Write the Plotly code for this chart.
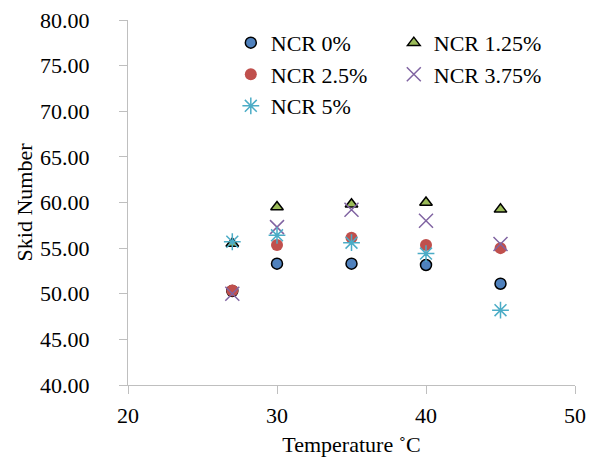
import plotly.graph_objects as go

temperature = [27, 30, 35, 40, 45]
ncr_0 = [50.3, 53.3, 53.3, 53.15, 51.1]
ncr_125 = [55.5, 59.5, 59.8, 60.0, 59.25]
ncr_25 = [50.35, 55.35, 56.15, 55.35, 55.0]
ncr_375 = [50.0, 57.3, 59.2, 58.0, 55.45]
ncr_5 = [55.7, 56.4, 55.6, 54.4, 48.2]

FONT = "Liberation Serif"
FS = 22
fig = go.Figure()
fig.add_trace(go.Scatter(x=temperature, y=ncr_0, mode="markers", name="NCR 0%",
                         marker=dict(symbol="circle", size=11, color="#4F81BD",
                                     line=dict(color="black", width=1.5))))
fig.add_trace(go.Scatter(x=temperature, y=ncr_125, mode="markers", name="NCR 1.25%",
                         marker=dict(symbol="triangle-up", size=11, color="#9BBB59",
                                     line=dict(color="black", width=1.5))))
fig.add_trace(go.Scatter(x=temperature, y=ncr_25, mode="markers", name="NCR 2.5%",
                         marker=dict(symbol="circle", size=12, color="#C0504D",
                                     line=dict(width=0))))
fig.add_trace(go.Scatter(x=temperature, y=ncr_375, mode="markers", name="NCR 3.75%",
                         marker=dict(symbol="x-thin-open", size=14, color="#8064A2",
                                     line=dict(color="#8064A2", width=1.5))))
fig.add_trace(go.Scatter(x=temperature, y=ncr_5, mode="markers", name="NCR 5%",
                         marker=dict(symbol="asterisk-open", size=14, color="#4BACC6",
                                     line=dict(color="#4BACC6", width=1.5))))

axis_common = dict(showgrid=False, zeroline=False, showline=True, linecolor="#BFBFBF",
                   linewidth=1, ticks="outside", tickcolor="#BFBFBF", ticklen=8,
                   automargin=False,
                   tickfont=dict(family=FONT, size=FS, color="black"))
fig.update_xaxes(range=[20, 50], dtick=10, tick0=20, ticklabelstandoff=3,
                 title=dict(text="Temperature ˚C", font=dict(family=FONT, size=FS, color="black"), standoff=9),
                 **axis_common)
fig.update_yaxes(range=[40, 80], dtick=5, tickformat=".2f", ticklabelstandoff=25,
                 title=dict(text="Skid Number", font=dict(family=FONT, size=FS, color="black"), standoff=1),
                 **axis_common)

fig.update_layout(
    width=592, height=464,
    margin=dict(l=128, r=17, t=20, b=79),
    plot_bgcolor="white", paper_bgcolor="white",
    font=dict(family=FONT, size=FS, color="black"),
    legend=dict(orientation="h", x=0.23, xanchor="left", y=0.995, yanchor="top",
                entrywidth=118, entrywidthmode="pixels", bgcolor="rgba(0,0,0,0)",
                font=dict(family=FONT, size=FS, color="black"), itemwidth=30,
                tracegroupgap=0),
)
fig.write_html("out.html", config={"displayModeBar": False},
               post_script="document.body.style.margin='0';document.body.style.padding='0';")
